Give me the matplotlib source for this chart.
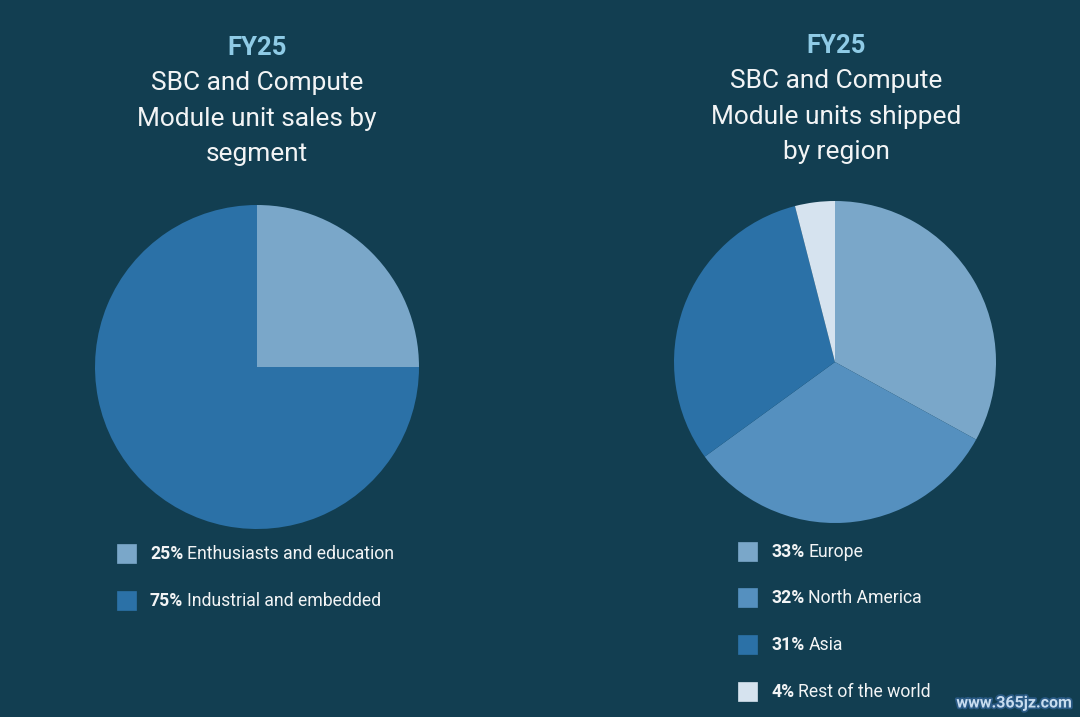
import matplotlib
matplotlib.use("Agg")
import matplotlib.pyplot as plt
import matplotlib.patheffects as pe

plt.rcParams['font.family'] = ['Roboto', 'DejaVu Sans']

# data
seg_labels = ["Enthusiasts and education", "Industrial and embedded"]
seg_values = [25, 75]
seg_colors = ["#7aa7c9", "#2b71a7"]

reg_labels = ["Europe", "North America", "Asia", "Rest of the world"]
reg_values = [33, 32, 31, 4]
reg_colors = ["#7aa7c9", "#5590bf", "#2b71a7", "#d6e3ef"]

bg = "#123e51"
W, H = 1080, 717

fig = plt.figure(figsize=(W / 100, H / 100), dpi=100, facecolor=bg)


def pie_axes(cx, cy, r):
    ax = fig.add_axes([(cx - r) / W, (H - cy - r) / H, 2 * r / W, 2 * r / H])
    ax.set_facecolor(bg)
    return ax


def title(x, y0, lines):
    fig.text(x / W, 1 - y0 / H, "FY25", color="#8fcbe6", fontsize=18.5,
             fontweight="bold", ha="center", va="center")
    for i, ln in enumerate(lines):
        fig.text(x / W, 1 - (y0 + 35.3 * (i + 1)) / H, ln, color="#f2f4f5",
                 fontsize=18.9, ha="center", va="center")


def legend(x, ys, values, labels, colors):
    r = fig.canvas.get_renderer()
    for y, v, lab, c in zip(ys, values, labels, colors):
        fig.patches.append(plt.Rectangle((x / W, 1 - (y + 9.5) / H), 19 / W, 19 / H,
                                         transform=fig.transFigure, facecolor=c,
                                         edgecolor=c, linewidth=0.5))
        t = fig.text((x + 33) / W, 1 - (y + 1) / H, f"{v}%", color="#f2f4f5",
                     fontsize=12.7, fontweight="bold", va="center")
        bb = t.get_window_extent(r)
        fig.text(bb.x1 / W + 4 / W, 1 - (y + 1) / H, lab, color="#f2f4f5",
                 fontsize=12.7, va="center")


# left pie
ax1 = pie_axes(257, 367, 162)
ax1.pie(seg_values, colors=seg_colors, startangle=90, counterclock=False,
        wedgeprops=dict(linewidth=0))
ax1.set_xlim(-1, 1)
ax1.set_ylim(-1, 1)

# right pie
ax2 = pie_axes(835, 362, 161)
ax2.pie(reg_values, colors=reg_colors, startangle=90, counterclock=False,
        wedgeprops=dict(linewidth=0))
ax2.set_xlim(-1, 1)
ax2.set_ylim(-1, 1)

title(257, 48, ["SBC and Compute", "Module unit sales by", "segment"])
title(836, 46, ["SBC and Compute", "Module units shipped", "by region"])

legend(117, [553, 600], seg_values, seg_labels, seg_colors)
legend(738, [551, 597, 644, 691], reg_values, reg_labels, reg_colors)

fig.text(1014 / W, 1 - 703 / H, "www.365jz.com", color="#c8dcef", fontsize=11.5,
         fontweight="bold", ha="center", va="center",
         path_effects=[pe.withStroke(linewidth=2.5, foreground="#2a5a85")])

fig.savefig("out.png", dpi=100, facecolor=bg)
